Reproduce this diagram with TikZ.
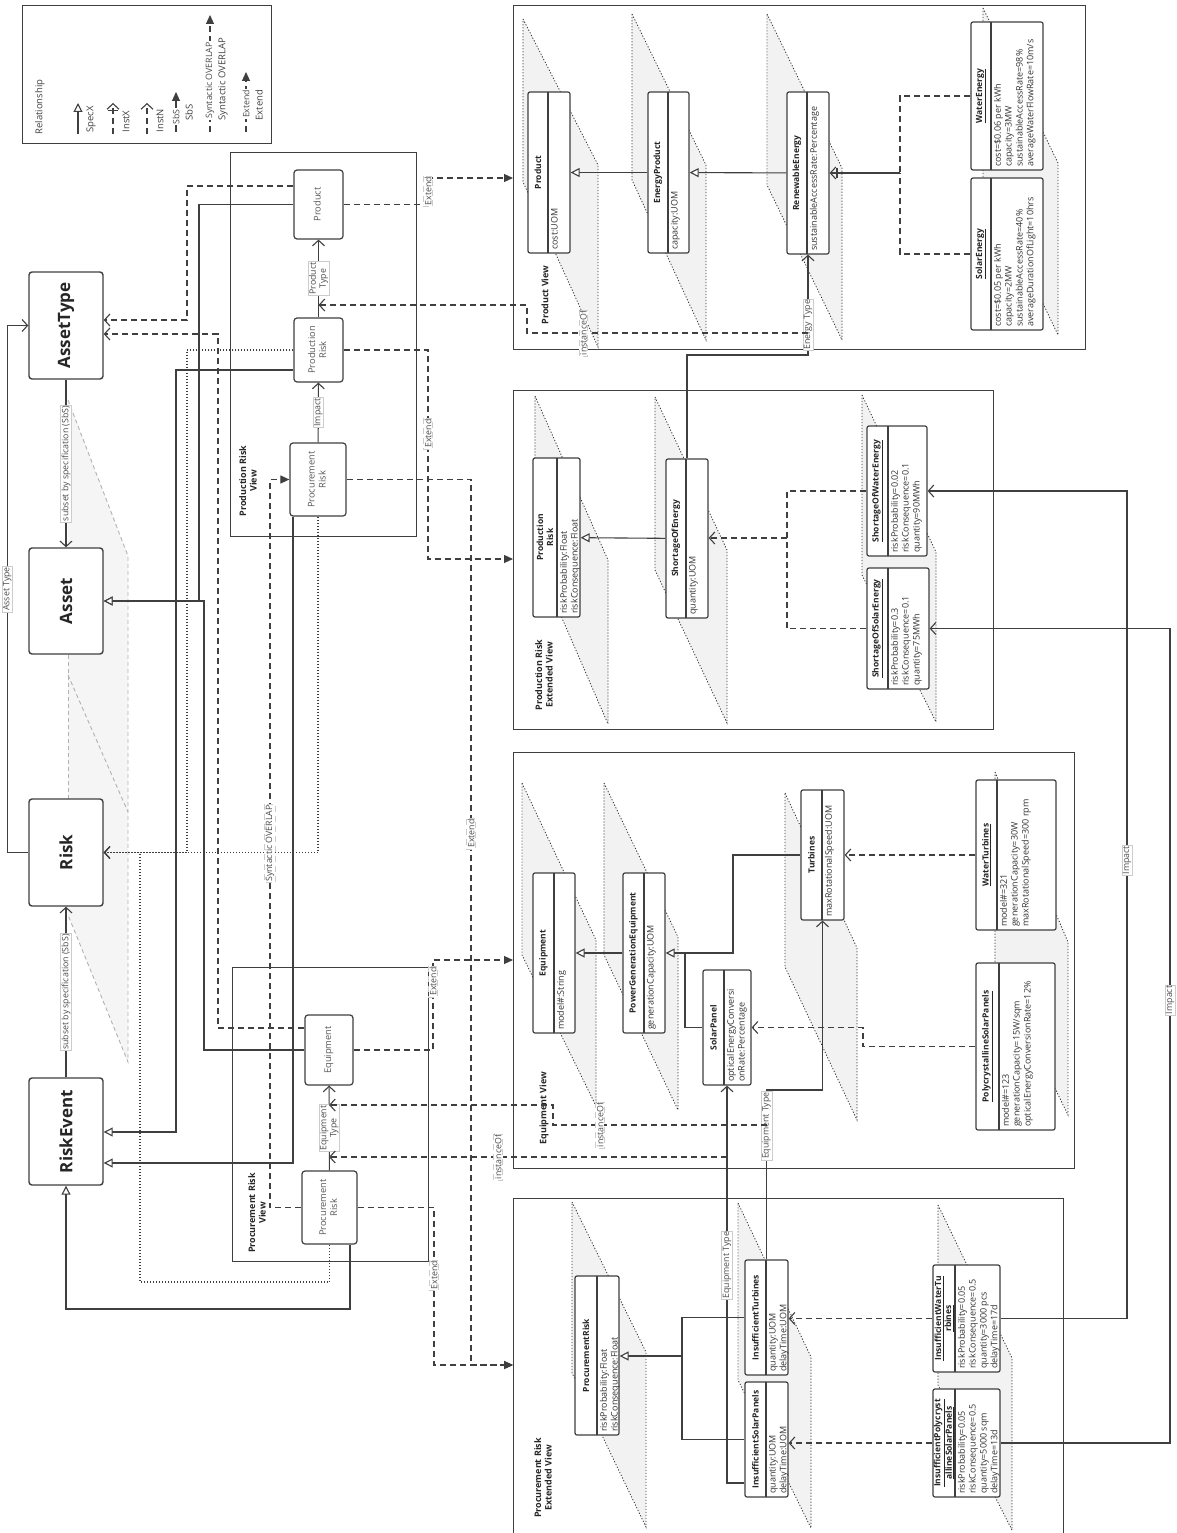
\documentclass[tikz,border=0pt]{standalone}
\usepackage{fontspec}
\setmainfont{Open Sans}
\usepackage{graphicx}
\usetikzlibrary{arrows.meta,calc}
\definecolor{LineGrey}{HTML}{3F3F3F}
\definecolor{PlaneGrey}{HTML}{F2F2F2}

\newcommand{\vtext}[1]{\rotatebox{90}{\begin{tabular}{@{}c@{}}#1\end{tabular}}}
\newcommand{\umlclass}[8]{%
  \node[cls, minimum width={(#4)-(#2)}, minimum height={(#5)-(#3)}] (#1) at ({((#2)+(#4))/2},{((#3)+(#5))/2}) {};
  \draw (#6,#3) -- (#6,#5);
  \node[clshead] (#1-h) at ({((#2)+(#6))/2},{((#3)+(#5))/2}) {#7};
  \node[clsattr] (#1-a) at (#6,#5) {#8};
}

\begin{document}
\begin{tikzpicture}[
    x=1pt, y=-1pt, line width=1.1pt, color=LineGrey,
    dsh/.style={dash pattern=on 6pt off 4pt},
    dots/.style={dash pattern=on 1.2pt off 1.8pt},
    assoc/.style={-{Straight Barb[length=5.5pt,width=12pt]}},
    specx/.style={-{Triangle[open,length=9pt,width=9pt,fill=white]}},
    instn/.style={dsh,-{Straight Barb[length=5.5pt,width=12pt]}},
    instdot/.style={dots,-{Straight Barb[length=5.5pt,width=12pt]}},
    instx/.style={dsh,-{Bar[width=10pt] Straight Barb[length=5.5pt,width=12pt]}},
    extend/.style={dsh,-{Triangle[length=9pt,width=8pt]}},
    overlap/.style={dsh,-{Triangle[length=9pt,width=8pt]}},
    filledarrow/.style={-{Triangle[length=9pt,width=8pt]}},
    meta/.style={draw, rounded corners=3pt, line width=1.4pt, fill=white, text=black!85,
                 font=\bfseries\fontsize{17}{20}\selectfont, inner sep=0pt},
    vnode/.style={draw, rounded corners=3pt, line width=1.2pt, fill=white, text=black!65,
                  font=\fontsize{9.3}{11}\selectfont, inner sep=0pt},
    view/.style={draw, line width=1.2pt, inner sep=0pt},
    vtitle/.style={rotate=90, font=\bfseries\fontsize{9}{10.5}\selectfont, text=black!85, align=center, inner sep=0pt},
    cls/.style={draw, rounded corners=2pt, line width=1.2pt, fill=white, inner sep=0pt},
    clshead/.style={rotate=90, font=\bfseries\fontsize{8.5}{10}\selectfont, text=black!85, align=center, inner sep=0pt},
    clsattr/.style={rotate=90, anchor=north west, align=left, font=\fontsize{9}{10.8}\selectfont, text=black!80, inner sep=2.5pt},
    lbl/.style={rotate=90, fill=white, draw=black!20, line width=0.5pt, text=black!70,
                font=\fontsize{8.8}{10}\selectfont, inner sep=1pt, align=center},
    lblplain/.style={lbl, draw=none},
    legtxt/.style={rotate=90, anchor=west, font=\fontsize{9.5}{11}\selectfont, text=black!75, inner sep=0pt},
    plane/.style={fill=PlaneGrey, draw=black!80, line width=0.8pt, dots},
    metaplane/.style={draw=black!30, dash pattern=on 4pt off 3pt, line width=0.9pt}
  ]
  \useasboundingbox (0,0) rectangle (1177,1533);

  % planes behind the levels
  \fill[black!4] (68,400) -- (128,556) -- (128,1062) -- (68,915) -- cycle;
  \draw[metaplane] (68,400) -- (128,556) -- (128,1062) -- (68,915);
  \draw[metaplane] (68,655) -- (68,799);
  \draw[metaplane] (68,675) -- (128,812);
  \foreach \xl/\ya/\yb/\xr/\yc/\yd in {523/19/182/598/165/347, 632/14/180/706/165/340,
      767/14/185/842/168/340, 983/8/178/1058/163/335, 535/396/556/608/560/724,
      655/397/570/727/550/723, 862/395/575/936/552/722, 522/783/955/596/940/1106,
      604/783/955/678/937/1110, 785/793/967/857/948/1120, 995/772/965/1068/942/1115,
      572/1202/1373/646/1352/1527, 738/1203/1380/811/1357/1528, 938/1205/1385/1012/1358/1530}
    \draw[plane] (\xl,\ya) -- (\xr,\yc) -- (\xr,\yd) -- (\xl,\yb) -- cycle;

  % legend
  \node[view, minimum width=249pt, minimum height=138pt, anchor=north west] (legend) at (22,5) {};
  \node[legtxt, anchor=center] (lgTitle) at (40,107) {Relationship};
  \foreach \i/\x/\ytop/\sty/\txt in {1/78/103/specx/SpecX, 2/113/103/instx/InstX, 3/147/103/instn/InstN}{
    \coordinate (lgs\i) at (\x,134);
    \coordinate (lge\i) at (\x,\ytop);
    \draw[\sty] (lgs\i) -- (lge\i);
    \node[legtxt] (lgt\i) at (\x+13,133) {\txt};
  }
  \foreach \i/\x/\ytop/\sty/\txt/\p in {4/176/92/filledarrow/SbS/0.38,
      5/210/15/overlap/Syntactic OVERLAP/0.44, 6/246/72/extend/Extend/0.47}{
    \coordinate (lgs\i) at (\x,132);
    \coordinate (lge\i) at (\x,\ytop);
    \draw[\sty] (lgs\i) -- node[lblplain, pos=\p] (lgl\i) {\txt} (lge\i);
    \node[legtxt] (lgt\i) at (\x+13,121) {\txt};
  }

  % meta level
  \node[meta, minimum width=74pt, minimum height=107pt] (mAssetType) at (66,325.5) {\rotatebox{90}{AssetType}};
  \node[meta, minimum width=74pt, minimum height=106pt] (mAsset) at (66,601) {\rotatebox{90}{Asset}};
  \node[meta, minimum width=74pt, minimum height=107pt] (mRisk) at (66,852.5) {\rotatebox{90}{Risk}};
  \node[meta, minimum width=74pt, minimum height=107pt] (mRiskEvent) at (66,1131.5) {\rotatebox{90}{RiskEvent}};

  % views
  \node[view, minimum width=186pt, minimum height=384pt, anchor=north west] (vProdRisk) at (230,152) {};
  \node[view, minimum width=196pt, minimum height=294pt, anchor=north west] (vProcRisk) at (232,967) {};
  \node[view, minimum width=572pt, minimum height=344pt, anchor=north west] (vProduct) at (513,5) {};
  \node[view, minimum width=480pt, minimum height=339pt, anchor=north west] (vProdRiskExt) at (513,390) {};
  \node[view, minimum width=561pt, minimum height=416pt, anchor=north west] (vEquip) at (513,752) {};
  \node[view, minimum width=550pt, minimum height=345pt, anchor=north west] (vProcRiskExt) at (513,1198) {};
  \node[vtitle] (vProdRisk-t) at (248,481) {Production Risk\\View};
  \node[vtitle] (vProcRisk-t) at (257,1213) {Procurement Risk\\View};
  \node[vtitle] (vProduct-t) at (545,295) {Product View};
  \node[vtitle] (vProdRiskExt-t) at (544,675) {Production Risk\\Extended View};
  \node[vtitle] (vEquip-t) at (544,1108) {Equipment View};
  \node[vtitle] (vProcRiskExt-t) at (543,1478) {Procurement Risk\\Extended View};

  \node[vnode, minimum width=49pt, minimum height=69pt] (pvProduct) at (318.5,204.5) {\vtext{Product}};
  \node[vnode, minimum width=49pt, minimum height=64pt] (pvProdRisk) at (318.5,350) {\vtext{Production\\Risk}};
  \node[vnode, minimum width=56pt, minimum height=73pt] (pvProcRisk) at (318,479.5) {\vtext{Procurement\\Risk}};
  \node[vnode, minimum width=48pt, minimum height=70pt] (prEquip) at (329,1050) {\vtext{Equipment}};
  \node[vnode, minimum width=55pt, minimum height=73pt] (prProcRisk) at (329.5,1207.5) {\vtext{Procurement\\Risk}};

  % classes and instances
  \umlclass{cProduct}{528}{92}{570}{253}{548}{Product}{cost:UOM}
  \umlclass{cEnergyProduct}{648}{92}{689}{253}{668}{EnergyProduct}{capacity:UOM}
  \umlclass{cRenewable}{787}{92}{829}{254}{807}{RenewableEnergy}{sustainableAccessRate:Percentage}
  \umlclass{iWaterEnergy}{971}{22}{1043}{170}{991}{\underline{WaterEnergy}}{cost=\$0.06 per kWh\\capacity=3MW\\sustainableAccessRate=98\%\\averageWaterFlowRate=10m/s}
  \umlclass{iSolarEnergy}{971}{178}{1043}{330}{991}{\underline{SolarEnergy}}{cost=\$0.05 per kWh\\capacity=2MW\\sustainableAccessRate=40\%\\averageDurationOfLight=10hrs}
  \umlclass{cProdRisk}{533}{458}{580}{617}{557}{Production\\Risk}{riskProbability:Float\\riskConsequence:Float}
  \umlclass{cShortage}{666}{459}{708}{618}{686}{ShortageOfEnergy}{quantity:UOM}
  \umlclass{iShortWater}{867}{426}{927}{556}{888}{\underline{ShortageOfWaterEnergy}}{riskProbability=0.02\\riskConsequence=0.1\\quantity=90MWh}
  \umlclass{iShortSolar}{867}{568}{929}{689}{888}{\underline{ShortageOfSolarEnergy}}{riskProbability=0.3\\riskConsequence=0.1\\quantity=75MWh}
  \umlclass{cEquipment}{533}{873}{575}{1033}{554}{Equipment}{model\#:String}
  \umlclass{cPGE}{623}{873}{665}{1033}{644}{PowerGenerationEquipment}{generationCapacity:UOM}
  \umlclass{cSolarPanel}{703}{970}{751}{1085}{724}{SolarPanel}{opticalEnergyConversi\\onRate:Percentage}
  \umlclass{cTurbines}{801}{790}{844}{920}{822}{Turbines}{maxRotationalSpeed:UOM}
  \umlclass{iWaterTurb}{976}{780}{1056}{930}{997}{\underline{WaterTurbines}}{model\#=321\\generationCapacity=30W\\maxRotationalSpeed=300 rpm}
  \umlclass{iPolySolar}{976}{963}{1055}{1130}{999}{\underline{PolycrystallineSolarPanels}}{model\#=123\\generationCapacity=15W/sqm\\opticalEnergyConversionRate=12\%}
  \umlclass{cProcRisk}{575}{1276}{619}{1435}{597}{ProcurementRisk}{riskProbability:Float\\riskConsequence:Float}
  \umlclass{cInsTurb}{745}{1260}{788}{1375}{766}{InsufficientTurbines}{quantity:UOM\\delayTime:UOM}
  \umlclass{cInsSolar}{745}{1382}{788}{1497}{766}{InsufficientSolarPanels}{quantity:UOM\\delayTime:UOM}
  \umlclass{iInsWater}{933}{1265}{1000}{1372}{955}{\underline{InsufficientWaterTu}\\\underline{rbines}}{riskProbability=0.05\\riskConsequence=0.5\\quantity=3000 pcs\\delayTime=17d}
  \umlclass{iInsPoly}{933}{1389}{1000}{1497}{955}{\underline{InsufficientPolycryst}\\\underline{allineSolarPanels}}{riskProbability=0.05\\riskConsequence=0.5\\quantity=5000 sqm\\delayTime=13d}

  % meta level links
  \draw[assoc] (mAssetType) -- node[lbl] (lSbS1) {subset by specification (SbS)} (mAsset);
  \draw[assoc] (mRiskEvent) -- node[lbl] (lSbS2) {subset by specification (SbS)} (mRisk);
  \draw[assoc] (mRisk.west) -- ++(-21,0) |- node[lbl,pos=0.25] (lAssetType) {Asset Type} (mAssetType.west);

  % views to meta level
  \draw[instn] (pvProduct.west |- 0,186) -| (187,320) -- (mAssetType.east |- 0,320);
  \draw[specx] (pvProduct.west) -| (199,601) -- (mAsset.east);
  \draw[instdot] (pvProdRisk.west) -| (187,852.5) -- (mRisk.east);
  \draw[specx] (pvProdRisk.west |- 0,370) -| (176,1132) -- (mRiskEvent.east |- 0,1132);
  \draw[instdot] (pvProcRisk.south -| 318,0) |- (mRisk.east);
  \draw[specx] (pvProcRisk.south -| 293,0) |- (mRiskEvent.east |- 0,1163);
  \draw[instn] (prEquip.west |- 0,1028) -| (218,334) -- (mAssetType.east |- 0,334);
  \draw[specx] (prEquip.west) -| (204,601) -- (mAsset.east);
  \draw[instdot] (prProcRisk.south) |- (140,1282) |- (mRisk.east);
  \draw[specx] (prProcRisk.south -| 350,0) |- (66,1309) -- (mRiskEvent.south);

  % inside the risk views
  \draw[assoc] (pvProdRisk) -- node[lbl] (lProdType) {Product\\Type} (pvProduct);
  \draw[assoc] (pvProcRisk) -- node[lbl] (lImpact1) {Impact} (pvProdRisk);
  \draw[assoc] (prProcRisk) -- node[lbl] (lEquipType1) {Equipment\\Type} (prEquip);
  \draw[overlap] (prProcRisk.west) -| node[lbl,pos=0.75] (lOverlap) {Syntactic OVERLAP} (270,479.5) -- (pvProcRisk.west);

  % extends
  \draw[extend] (pvProduct.east) -| node[lbl,pos=0.75] (lExt1) {Extend} (428,178) -- (vProduct.west |- 0,178);
  \draw[extend] (pvProdRisk.east) -| node[lbl,pos=0.7] (lExt2) {Extend} (428,559) -- (vProdRiskExt.west |- 0,559);
  \draw[extend] (pvProcRisk.east) -| node[lbl,pos=0.7] (lExt3) {Extend} (471,1365) -- (vProcRiskExt.west |- 0,1365);
  \draw[extend] (prEquip.east) -| node[lbl,pos=0.88] (lExt4) {Extend} (433,960) -- (vEquip.west |- 0,960);
  \draw[extend] (prProcRisk.east) -| node[lbl,pos=0.715] (lExt5) {Extend} (434,1365) -- (vProcRiskExt.west |- 0,1365);

  % product view
  \draw[specx] (cEnergyProduct) -- (cProduct);
  \draw[specx] (cRenewable) -- (cEnergyProduct);
  \coordinate (jRenew) at (900,173);
  \draw[dsh] (iWaterEnergy.west) -| (jRenew);
  \draw[dsh] (iSolarEnergy.west) -| (jRenew);
  \draw[instx,solid] (jRenew) -- (jRenew -| cRenewable.east);
  \draw[assoc] (cShortage.north) |- (808,355) -- node[lbl,pos=0.3] (lEnergyType) {Energy Type} (cRenewable.south);
  \coordinate (jEnergyType) at (808,333);
  \draw[instn] (jEnergyType) -- node[lbl,pos=0.8] (lInst1) {instanceOf} (527,333) |- (pvProduct.south |- 0,305);

  % production risk extended view
  \draw[specx] (cShortage) -- (cProdRisk);
  \coordinate (jShort) at (787,538);
  \draw[dsh] (iShortWater.west) -| (jShort);
  \draw[dsh] (iShortSolar.west) -| (jShort);
  \draw[instn] (jShort) -- (jShort -| cShortage.east);

  % equipment view
  \draw[specx] (cPGE) -- (cEquipment);
  \coordinate (jPGE) at (685,953);
  \draw (cTurbines.west) -| (733,953) -- (jPGE);
  \draw (cSolarPanel.west) -| (jPGE);
  \draw[specx] (jPGE) -- (jPGE -| cPGE.east);
  \draw[instn] (iWaterTurb.west) -- (iWaterTurb.west -| cTurbines.east);
  \draw[instn] (iPolySolar.west) -| (863,1027.5) -- (cSolarPanel.east);

  % procurement risk extended view
  \coordinate (jIns) at (682,1356);
  \draw (cInsTurb.west) -| (jIns);
  \draw (cInsSolar.west) -| (jIns);
  \draw[specx] (jIns) -- (jIns -| cProcRisk.east);
  \draw[instn] (iInsWater.west) -- (iInsWater.west -| cInsTurb.east);
  \draw[instn] (iInsPoly.west) -- (iInsPoly.west -| cInsSolar.east);

  % equipment types
  \draw[assoc] (cInsTurb.north) -- node[lbl,pos=0.79] (lEquipType2) {Equipment Type} (cInsTurb.north |- 0,1090) -| (cTurbines.south);
  \draw[assoc] (cInsSolar.west |- 0,1483) -| node[lbl,pos=0.774] (lEquipType3) {Equipment Type} (cSolarPanel.south);
  \coordinate (jTurbType) at (766.5,1125);
  \coordinate (jSolarType) at (727,1157);
  \draw[instn] (jTurbType) -- node[lbl,pos=0.78] (lInst2) {instanceOf} (553,1125) |- (prEquip.south |- 0,1105);
  \draw[instn] (jSolarType) -- node[lbl,pos=0.575] (lInst3) {instanceOf} (prEquip.south |- 0,1157);

  % impacts
  \draw[assoc] (iInsWater.east) -| node[lbl,pos=0.777] (lImpact2) {Impact} (1127,491) -- (iShortWater.east |- 0,491);
  \draw[assoc] (iInsPoly.east) -| node[lbl,pos=0.772] (lImpact3) {Impact} (1170,628.5) -- (iShortSolar.east |- 0,628.5);
\end{tikzpicture}
\end{document}
